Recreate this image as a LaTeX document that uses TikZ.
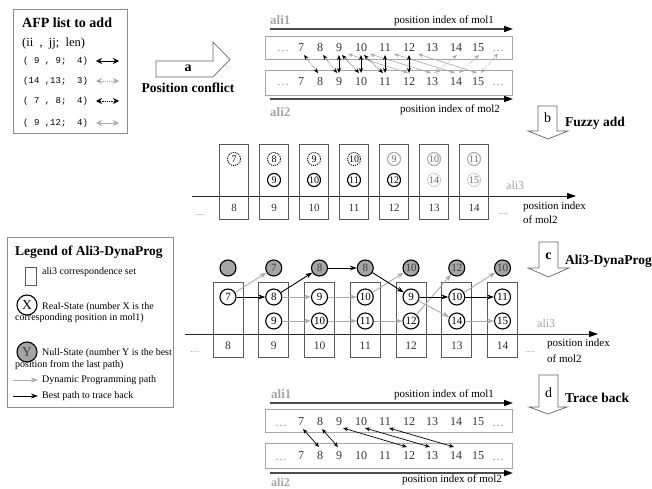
\documentclass[tikz,border=0pt]{standalone}
\usepackage{fontspec}
\setmainfont{Liberation Serif}
\newfontfamily\monofam{Liberation Mono}
\usetikzlibrary{arrows.meta}
\definecolor{lgray}{RGB}{172,172,172}
\definecolor{nullfill}{RGB}{165,165,165}
\newcommand\myfs[1]{\fontsize{#1}{#1}\selectfont}
\begin{document}
\begin{tikzpicture}[x=1pt,y=-1pt,
 num/.style={inner sep=0pt,font=\myfs{12},text=black!80},
 dotsn/.style={inner sep=0pt,anchor=base,font=\myfs{12},text=black!45},
 alilab/.style={inner sep=0pt,anchor=west,font=\bfseries\myfs{13},text=black!35},
 poslab/.style={inner sep=0pt,font=\myfs{11}},
 leg/.style={inner sep=0pt,anchor=west,font=\myfs{10}},
 bold/.style={inner sep=0pt,anchor=west,font=\bfseries\myfs{13.5}},
 alibox/.style={draw=black!35,line width=0.9pt},
 axisln/.style={line width=1.6pt,draw=black!70,-{Triangle[length=9pt,width=6pt,color=black]}},
 thinaxis/.style={line width=0.9pt,draw=black!85,-{Triangle[length=9pt,width=6pt,color=black]}},
 cf/.style={line width=0.6pt,arrows={Stealth[length=5pt,width=4pt]-Stealth[length=5pt,width=4pt]}},
 afp/.style={line width=0.8pt,arrows={Stealth[length=6pt,width=6pt]-Stealth[length=6pt,width=6pt]}},
 blk/.style={line width=0.9pt,draw=black,-{Stealth[length=7pt,width=5pt]}},
 gry/.style={line width=0.9pt,draw=lgray,-{Stealth[length=7pt,width=5pt]}},
 blockarr/.style={draw=black!60,line width=0.7pt,fill=white},
 fbox/.style={draw=black!65,line width=0.7pt,minimum width=29pt,minimum height=75pt,inner sep=0pt},
 dbox/.style={draw=black!65,line width=0.7pt,minimum width=30pt,minimum height=75pt,inner sep=0pt},
 fc/.style={circle,draw=black,line width=1.1pt,minimum size=13pt,inner sep=0pt,font=\myfs{10}},
 fcd/.style={fc,densely dotted,line width=0.9pt},
 fcg/.style={fc,draw=lgray,text=black!60},
 fcgd/.style={fc,draw=lgray,densely dotted,line width=0.9pt,text=black!60},
 dc/.style={circle,draw=black,line width=1.1pt,minimum size=16pt,inner sep=0pt,font=\myfs{11},fill=white},
 dn/.style={dc,fill=nullfill,text=black!75}
]
\useasboundingbox[fill=white] (0,0) rectangle (652,489);

% ---------------- AFP list box
\node[draw=black!45,line width=0.7pt,minimum width=114pt,minimum height=124pt,inner sep=0pt] (afpbox) at (70,71) {};
\node[inner sep=0pt,anchor=west,font=\bfseries\myfs{14}] (afpt) at (22,23) {AFP list to add};
\node[inner sep=0pt,anchor=west,font=\myfs{12.5}] (afph) at (22,43) {(ii\ \ , \ jj;\ \ len)};
\node[inner sep=0pt,anchor=west,font=\monofam\myfs{9}] (afr1) at (23,61) {(~9~,~9;~~4)};
\node[inner sep=0pt,anchor=west,font=\monofam\myfs{9}] (afr2) at (23,81) {(14~,13;~~3)};
\node[inner sep=0pt,anchor=west,font=\monofam\myfs{9}] (afr3) at (23,101) {(~7~,~8;~~4)};
\node[inner sep=0pt,anchor=west,font=\monofam\myfs{9}] (afr4) at (23,123) {(~9~,12;~~4)};
\coordinate (afa1) at (96,61); \coordinate (afb1) at (119,61);
\coordinate (afa2) at (96,81); \coordinate (afb2) at (119,81);
\coordinate (afa3) at (96,101); \coordinate (afb3) at (119,101);
\coordinate (afa4) at (96,123); \coordinate (afb4) at (119,123);
\draw[afp,black] (afa1) -- (afb1);
\draw[afp,lgray,densely dotted] (afa2) -- (afb2);
\draw[afp,black,densely dotted] (afa3) -- (afb3);
\draw[afp,lgray] (afa4) -- (afb4);

% ---------------- arrow a
\draw[blockarr] (156,61) -- (213,61) -- (213,42) -- (230,59.5) -- (213,77) -- (156,77) -- cycle;
\node[inner sep=0pt,font=\bfseries\myfs{14}] (alab) at (188,68) {a};
\node[inner sep=0pt,font=\bfseries\myfs{13.5}] (pconf) at (188,88) {Position conflict};

% ---------------- top alignment
\node[alilab] (ali1t) at (270,20) {ali1};
\node[poslab] (pm1t) at (444,21) {position index of mol1};
\coordinate (ta1) at (270,29); \coordinate (ta2) at (513,29);
\draw[axisln] (ta1) -- (ta2);
\node[alibox,minimum width=247pt,minimum height=23pt,inner sep=0pt] (tbu) at (388.5,47.5) {};
\node[alibox,minimum width=247pt,minimum height=25pt,inner sep=0pt] (tbl) at (388.5,82.5) {};
\coordinate (tb1) at (270,99); \coordinate (tb2) at (513,99);
\draw[axisln] (tb1) -- (tb2);
\node[alilab] (ali2t) at (270,112) {ali2};
\node[poslab] (pm2t) at (450,110) {position index of mol2};

% ---------------- trace-back alignment
\node[alilab] (ali1b) at (271,394) {ali1};
\node[poslab] (pm1b) at (444,395) {position index of mol1};
\coordinate (ba1) at (270,403); \coordinate (ba2) at (513,403);
\draw[axisln] (ba1) -- (ba2);
\node[alibox,minimum width=247pt,minimum height=23pt,inner sep=0pt] (bbu) at (388.5,421) {};
\node[alibox,minimum width=247pt,minimum height=25pt,inner sep=0pt] (bbl) at (388.5,456) {};
\coordinate (bb1) at (270,473); \coordinate (bb2) at (513,473);
\draw[axisln] (bb1) -- (bb2);
\node[alilab,font=\bfseries\myfs{12}] (ali2b) at (271,482.5) {ali2};
\node[poslab] (pm2b) at (452,480) {position index of mol2};

\foreach \n/\px in {7/301,8/320,9/339,10/361,11/385,12/409,13/432,14/456,15/478}{
  \node[num] (u\n) at (\px,48) {\n};
  \node[num] (l\n) at (\px,82) {\n};
  \node[num] (tu\n) at (\px,422) {\n};
  \node[num] (tl\n) at (\px,456) {\n};
}
\node[dotsn] (uL) at (283,52) {\dots};
\node[dotsn] (uR) at (498,52) {\dots};
\node[dotsn] (lL) at (283,86) {\dots};
\node[dotsn] (lR) at (498,86) {\dots};
\node[dotsn] (tuL) at (281,426) {\dots};
\node[dotsn] (tuR) at (498,426) {\dots};
\node[dotsn] (tlL) at (281,460) {\dots};
\node[dotsn] (tlR) at (498,460) {\dots};

% conflict arrows
\foreach \a/\b in {9/12,10/13,11/14,12/15}
  \draw[cf,lgray] ([shift={(9,6)}]u\a.center) -- ([shift={(-1,-9)}]l\b.center);
\foreach \a/\b in {14/13,15/14}
  \draw[cf,lgray,densely dotted] ([shift={(1,7)}]u\a.center) -- ([shift={(3,-9)}]l\b.center);
\draw[cf,lgray,densely dotted] ([shift={(0,3)}]uR.north) -- ([shift={(3,-9)}]l15.center);
\foreach \a/\b in {7/8,8/9,9/10,10/11}
  \draw[cf,densely dotted] ([shift={(3,7)}]u\a.center) -- ([shift={(-2,-9)}]l\b.center);
\foreach \a in {9,10,11,12}
  \draw[cf,line width=0.9pt] ([shift={(0,7)}]u\a.center) -- ([shift={(0,-9)}]l\a.center);

% trace back arrows
\foreach \a/\b in {7/8,8/9}
  \draw[cf,line width=0.7pt] ([shift={(2,7)}]tu\a.center) -- ([shift={(-1,-9)}]tl\b.center);
\foreach \a/\b in {9/12,10/13,11/14}
  \draw[cf,line width=0.7pt] ([shift={(4,6)}]tu\a.center) -- ([shift={(-2,-9)}]tl\b.center);

% ---------------- arrow b
\draw[blockarr] (538,106) -- (557,106) -- (557,131) -- (568,131) -- (548,139) -- (528,131) -- (538,131) -- cycle;
\node[inner sep=0pt,font=\myfs{14}] (blab) at (547.5,118) {b};
\node[bold] (fuzzy) at (565,123) {Fuzzy add};

% ---------------- fuzzy add section
\foreach \k/\cx in {8/234,9/274,10/314,11/354,12/394,13/434,14/474}{
  \node[fbox] (fb\k) at (\cx,181.5) {};
  \node[num,font=\myfs{11}] (fk\k) at (\cx,208) {\k};
}
\coordinate (fx1) at (192,196); \coordinate (fx2) at (576,196);
\draw[thinaxis] (fx1) -- (fx2);
\node[fcd] (f8a) at (234,159) {7};
\node[fcd] (f9a) at (274,159) {8};  \node[fc] (f9b) at (274,180) {9};
\node[fcd] (f10a) at (314,159) {9}; \node[fc] (f10b) at (314,180) {10};
\node[fcd] (f11a) at (354,159) {10}; \node[fc] (f11b) at (354,180) {11};
\node[fcg] (f12a) at (394,159) {9}; \node[fc] (f12b) at (394,180) {12};
\node[fcg] (f13a) at (434,159) {10}; \node[fcgd] (f13b) at (434,180) {14};
\node[fcg] (f14a) at (474,159) {11}; \node[fcgd] (f14b) at (474,180) {15};
\node[alilab,font=\myfs{12}] (ali3f) at (506,185) {ali3};
\node[leg,font=\myfs{11}] (pf1) at (523,207) {position index};
\node[leg,font=\myfs{11}] (pf2) at (523,220) {of mol2};
\node[inner sep=0pt,font=\myfs{9},text=black!45] (fdl) at (200,215) {....};
\node[inner sep=0pt,font=\myfs{9},text=black!45] (fdr) at (503,214) {....};

% ---------------- arrow c
\draw[blockarr] (539,242) -- (558,242) -- (558,268) -- (569,268) -- (548.5,277) -- (528,268) -- (539,268) -- cycle;
\node[inner sep=0pt,font=\bfseries\myfs{14}] (clab) at (548.5,256) {c};
\node[bold] (dyn) at (565,261) {Ali3-DynaProg};

% ---------------- DP section
\foreach \k/\cx in {8/228,9/273.75,10/319.5,11/365.25,12/411,13/456.75,14/502.5}{
  \node[dbox] (db\k) at (\cx,319.5) {};
  \node[num,font=\myfs{11.5}] (dk\k) at (\cx,346) {\k};
}
\coordinate (dx1) at (185,334); \coordinate (dx2) at (598,334);
\draw[thinaxis] (dx1) -- (dx2);
\node[dn] (n8) at (228,268) {};
\node[dn] (n9) at (273.75,268) {7};
\node[dn] (n10) at (319.5,268) {8};
\node[dn] (n11) at (365.25,268) {8};
\node[dn] (n12) at (411,268) {10};
\node[dn] (n13) at (456.75,268) {12};
\node[dn] (n14) at (502.5,268) {10};
\node[dc] (r8) at (228,297) {7};
\node[dc] (r9) at (273.75,297) {8};   \node[dc] (s9) at (273.75,321) {9};
\node[dc] (r10) at (319.5,297) {9};   \node[dc] (s10) at (319.5,321) {10};
\node[dc] (r11) at (365.25,297) {10}; \node[dc] (s11) at (365.25,321) {11};
\node[dc] (r12) at (411,297) {9};     \node[dc] (s12) at (411,321) {12};
\node[dc] (r13) at (456.75,297) {10}; \node[dc] (s13) at (456.75,321) {14};
\node[dc] (r14) at (502.5,297) {11};  \node[dc] (s14) at (502.5,321) {15};
\foreach \a/\b in {r8/n9,r9/r10,s9/s10,r10/r11,s10/s11,r11/n12,s11/s12,s12/n13,r12/s13,r13/n14,s13/s14}
  \draw[gry] (\a) -- (\b);
\foreach \a/\b in {r8/r9,r9/n10,n10/n11,n11/r12,r12/r13,r13/r14}
  \draw[blk] (\a) -- (\b);
\node[alilab,font=\myfs{12}] (ali3d) at (537,323) {ali3};
\node[leg,font=\myfs{11}] (pd1) at (547,344) {position index};
\node[leg,font=\myfs{11}] (pd2) at (547,359) {of mol2};
\node[inner sep=0pt,font=\myfs{9},text=black!45] (ddl) at (195,352) {....};
\node[inner sep=0pt,font=\myfs{9},text=black!45] (ddr) at (530,352) {....};

% ---------------- arrow d
\draw[blockarr] (539,375) -- (558,375) -- (558,407) -- (567,407) -- (548,414) -- (529,407) -- (539,407) -- cycle;
\node[inner sep=0pt,font=\myfs{14}] (dlab) at (548.5,393) {d};
\node[bold] (trace) at (565,398) {Trace back};

% ---------------- legend
\node[draw=black!45,line width=0.7pt,minimum width=166pt,minimum height=170pt,inner sep=0pt] (legbox) at (90,322) {};
\node[bold] (legt) at (15,252) {Legend of Ali3-DynaProg};
\node[draw=black!65,line width=0.7pt,minimum width=11pt,minimum height=18pt,inner sep=0pt] (legr) at (30.5,276) {};
\node[leg] (legrt) at (42,272) {ali3 correspondence set};
\node[circle,draw=black,line width=1.1pt,minimum size=20pt,inner sep=0pt,font=\myfs{13.5}] (legx) at (27,305) {X};
\node[leg] (legx1) at (42,307) {Real-State (number X is the};
\node[leg] (legx2) at (15,318.5) {corresponding position in mol1)};
\node[circle,draw=black,line width=1.1pt,fill=nullfill,minimum size=20pt,inner sep=0pt,font=\myfs{13.5},text=black!75] (legy) at (27,352) {Y};
\node[leg] (legy1) at (42,353) {Null-State (number Y is the best};
\node[leg] (legy2) at (15,365.5) {position from the last path)};
\coordinate (lg1) at (13,380); \coordinate (lg2) at (38,380);
\draw[gry] (lg1) -- (lg2);
\node[leg] (leggt) at (42,380) {Dynamic Programming path};
\coordinate (lb1) at (13,396); \coordinate (lb2) at (38,396);
\draw[blk] (lb1) -- (lb2);
\node[leg] (legbt) at (42,396) {Best path to trace back};
\end{tikzpicture}
\end{document}
